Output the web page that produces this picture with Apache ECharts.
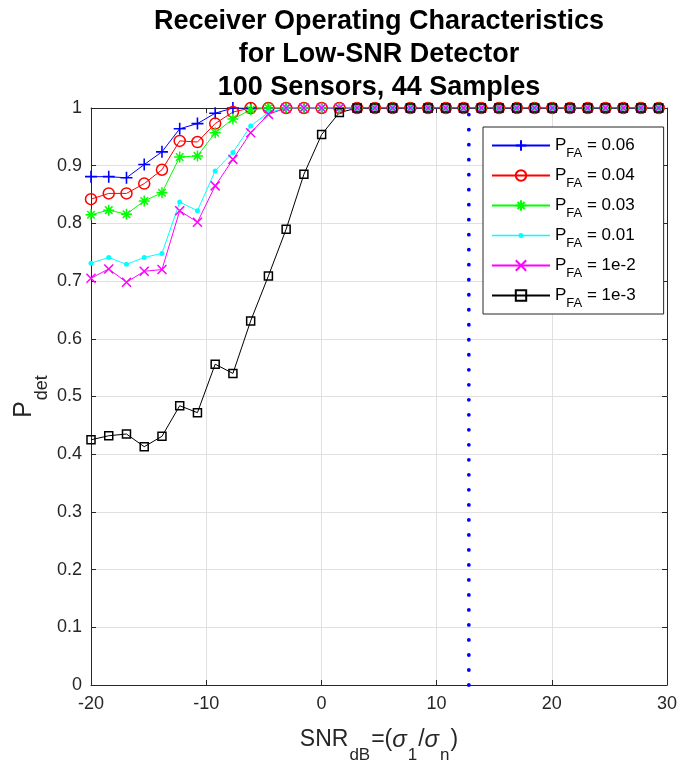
<!DOCTYPE html>
<html>
<head>
<meta charset="utf-8">
<script src="https://cdn.jsdelivr.net/npm/echarts@6/dist/echarts.min.js"></script>
<style>
  html, body { margin: 0; padding: 0; background: #fff; }
  #chart { width: 680px; height: 762px; }
</style>
</head>
<body>
<div id="chart"></div>
<script>
// SNR (dB) sample positions
var snrDb = [-20.00, -18.46, -16.92, -15.38, -13.84, -12.30, -10.76, -9.22, -7.68, -6.14,
             -4.60, -3.06, -1.52, 0.02, 1.56, 3.10, 4.64, 6.18, 7.72, 9.26,
             10.80, 12.34, 13.88, 15.42, 16.96, 18.50, 20.04, 21.58, 23.12, 24.66,
             26.20, 27.74, 29.28];

// Detection probabilities per false-alarm level
var pdPfa006 = [0.881, 0.881, 0.879, 0.902, 0.924, 0.964, 0.973, 0.991, 1, 1,
                1, 1, 1, 1, 1, 1, 1, 1, 1, 1, 1, 1, 1, 1, 1, 1, 1, 1, 1, 1, 1, 1, 1];
var pdPfa004 = [0.842, 0.852, 0.852, 0.869, 0.893, 0.943, 0.941, 0.973, 0.993, 1,
                1, 1, 1, 1, 1, 1, 1, 1, 1, 1, 1, 1, 1, 1, 1, 1, 1, 1, 1, 1, 1, 1, 1];
var pdPfa003 = [0.815, 0.823, 0.816, 0.839, 0.853, 0.915, 0.917, 0.957, 0.981, 0.997,
                1, 1, 1, 1, 1, 1, 1, 1, 1, 1, 1, 1, 1, 1, 1, 1, 1, 1, 1, 1, 1, 1, 1];
var pdPfa001 = [0.731, 0.741, 0.729, 0.741, 0.748, 0.837, 0.822, 0.891, 0.923, 0.969,
                0.992, 1, 1, 1, 1, 1, 1, 1, 1, 1, 1, 1, 1, 1, 1, 1, 1, 1, 1, 1, 1, 1, 1];
var pdPfa1e2 = [0.705, 0.721, 0.698, 0.717, 0.720, 0.822, 0.802, 0.865, 0.911, 0.957,
                0.989, 1, 1, 1, 1, 1, 1, 1, 1, 1, 1, 1, 1, 1, 1, 1, 1, 1, 1, 1, 1, 1, 1];
var pdPfa1e3 = [0.425, 0.432, 0.435, 0.413, 0.431, 0.484, 0.472, 0.556, 0.540, 0.631,
                0.709, 0.790, 0.885, 0.954, 0.992, 1, 1, 1, 1, 1, 1, 1, 1, 1, 1, 1, 1, 1, 1, 1, 1, 1, 1];

var seriesNames = ['P_FA = 0.06', 'P_FA = 0.04', 'P_FA = 0.03', 'P_FA = 0.01', 'P_FA = 1e-2', 'P_FA = 1e-3'];
var pfaLabels = ['0.06', '0.04', '0.03', '0.01', '1e-2', '1e-3'];

// Threshold marker (vertical dotted line)
var thresholdX = [12.8, 12.8];
var thresholdY = [0, 1];

// Axis ranges / ticks
var xRange = [-20, 30], xStep = 10;
var yRange = [0, 1], yStep = 0.1;

var FONT = '"Liberation Sans", Arial, Helvetica, sans-serif';
var INK = '#262626';

function pairs(xs, ys) { return xs.map(function (x, i) { return [x, ys[i]]; }); }

var PLUS = 'path://M5,0L5,10M0,5L10,5';
var CROSS = 'path://M0,0L10,10M10,0L0,10';
var STAR = 'path://M5,0L5,10M0,5L10,5M1.6,1.6L8.4,8.4M8.4,1.6L1.6,8.4';
// legend icon for the "dot" series: thin line with a small dot in the middle
var DOT_LEGEND = 'path://M0,5.35L58,5.35L58,6.65L0,6.65ZM31.5,6A2.5,2.5,0,1,1,26.5,6A2.5,2.5,0,1,1,31.5,6Z';

function lineSeries(name, ys, color, symbol, size, fill, bw) {
  return {
    name: name, type: 'line', data: pairs(snrDb, ys),
    color: color,
    symbol: symbol, symbolSize: size, showSymbol: true,
    lineStyle: { color: color, width: 1 },
    itemStyle: { color: fill, borderColor: color, borderWidth: bw },
    emphasis: { disabled: true },
    z: 3
  };
}

var series = [
  lineSeries(seriesNames[0], pdPfa006, '#0000ff', PLUS, 12, 'rgba(0,0,0,0)', 1.6),
  lineSeries(seriesNames[1], pdPfa004, '#ff0000', 'circle', 11, 'rgba(0,0,0,0)', 1.5),
  lineSeries(seriesNames[2], pdPfa003, '#00ff00', STAR, 11, 'rgba(0,0,0,0)', 1.5),
  lineSeries(seriesNames[3], pdPfa001, '#00ffff', 'circle', 5, '#00ffff', 0),
  lineSeries(seriesNames[4], pdPfa1e2, '#ff00ff', CROSS, 9, 'rgba(0,0,0,0)', 1.5),
  lineSeries(seriesNames[5], pdPfa1e3, '#000000', 'rect', 8, 'rgba(0,0,0,0)', 1.5),
  {
    name: 'threshold', type: 'line', data: pairs(thresholdX, thresholdY),
    symbol: 'none', silent: true,
    lineStyle: { color: '#0000ff', width: 3.8, type: [0.01, 15], cap: 'round' },
    z: 2
  }
];

var legendData = seriesNames.map(function (n, i) {
  return i === 3 ? { name: n, icon: DOT_LEGEND } : { name: n };
});

var chart = echarts.init(document.getElementById('chart'), null, { renderer: 'canvas' });

chart.setOption({
  animation: false,
  backgroundColor: '#fff',
  textStyle: { fontFamily: FONT },
  title: {
    text: 'Receiver Operating Characteristics\nfor Low-SNR Detector\n100 Sensors, 44 Samples',
    left: 379, top: 5, textAlign: 'center', padding: 0,
    textStyle: { fontFamily: FONT, fontSize: 27, fontWeight: 'bold', color: '#000', lineHeight: 33 }
  },
  grid: { left: 91, right: 13, top: 108, bottom: 77, containLabel: false, outerBoundsMode: 'none',
          show: false },
  legend: {
    data: legendData,
    orient: 'vertical',
    left: 483, top: 127,
    itemWidth: 58, itemHeight: 13, itemGap: 1,
    padding: [4, 28, 4, 8],
    backgroundColor: '#fff', borderColor: INK, borderWidth: 1, borderRadius: 0,
    selectedMode: false,
    formatter: function (name) {
      var i = seriesNames.indexOf(name);
      return 'P{sub|FA} = ' + pfaLabels[i];
    },
    textStyle: {
      fontFamily: FONT, fontSize: 17, color: '#000',
      rich: { sub: { fontFamily: FONT, fontSize: 13, lineHeight: 13, padding: [16, 0, 0, 0], color: '#000' } }
    }
  },
  xAxis: [{
    type: 'value', min: xRange[0], max: xRange[1], interval: xStep,
    position: 'bottom',
    name: 'SNR{sub|dB}=({it|σ}{sub|1}/{it|σ}{sub|n})',
    nameLocation: 'middle', nameGap: 43, nameMoveOverlap: false,
    nameTextStyle: {
      fontFamily: FONT, fontSize: 23, color: INK,
      rich: {
        sub: { fontFamily: FONT, fontSize: 17, lineHeight: 17, padding: [30, 1, 0, 1], color: INK },
        it: { fontFamily: FONT, fontSize: 24, fontStyle: 'italic', color: INK }
      }
    },
    axisLine: { show: true, onZero: false, lineStyle: { color: INK, width: 1 } },
    axisTick: { show: true, inside: true, length: 5, lineStyle: { color: INK } },
    axisLabel: { fontFamily: FONT, fontSize: 18, color: INK, margin: 10 },
    splitLine: { show: true, lineStyle: { color: '#e0e0e0', width: 1 } }
  }, {
    type: 'value', min: xRange[0], max: xRange[1], interval: xStep,
    position: 'top',
    axisLine: { show: true, onZero: false, lineStyle: { color: INK, width: 1 } },
    axisTick: { show: true, inside: true, length: 5, lineStyle: { color: INK } },
    axisLabel: { show: false },
    splitLine: { show: false }
  }],
  yAxis: [{
    type: 'value', min: yRange[0], max: yRange[1], interval: yStep,
    position: 'left',
    name: 'P{sub|det}',
    nameLocation: 'middle', nameRotate: 90, nameGap: 54, nameMoveOverlap: false,
    nameTextStyle: {
      fontFamily: FONT, fontSize: 25, color: INK,
      rich: { sub: { fontFamily: FONT, fontSize: 18, lineHeight: 18, padding: [35, 0, 0, 1], color: INK } }
    },
    axisLine: { show: true, onZero: false, lineStyle: { color: INK, width: 1 } },
    axisTick: { show: true, inside: true, length: 5, lineStyle: { color: INK } },
    axisLabel: { fontFamily: FONT, fontSize: 18, color: INK, margin: 9,
                 formatter: function (v) { return String(Math.round(v * 10) / 10); } },
    splitLine: { show: true, lineStyle: { color: '#e0e0e0', width: 1 } }
  }, {
    type: 'value', min: yRange[0], max: yRange[1], interval: yStep,
    position: 'right',
    axisLine: { show: true, onZero: false, lineStyle: { color: INK, width: 1 } },
    axisTick: { show: true, inside: true, length: 5, lineStyle: { color: INK } },
    axisLabel: { show: false },
    splitLine: { show: false }
  }],
  series: series
});
</script>
</body>
</html>
